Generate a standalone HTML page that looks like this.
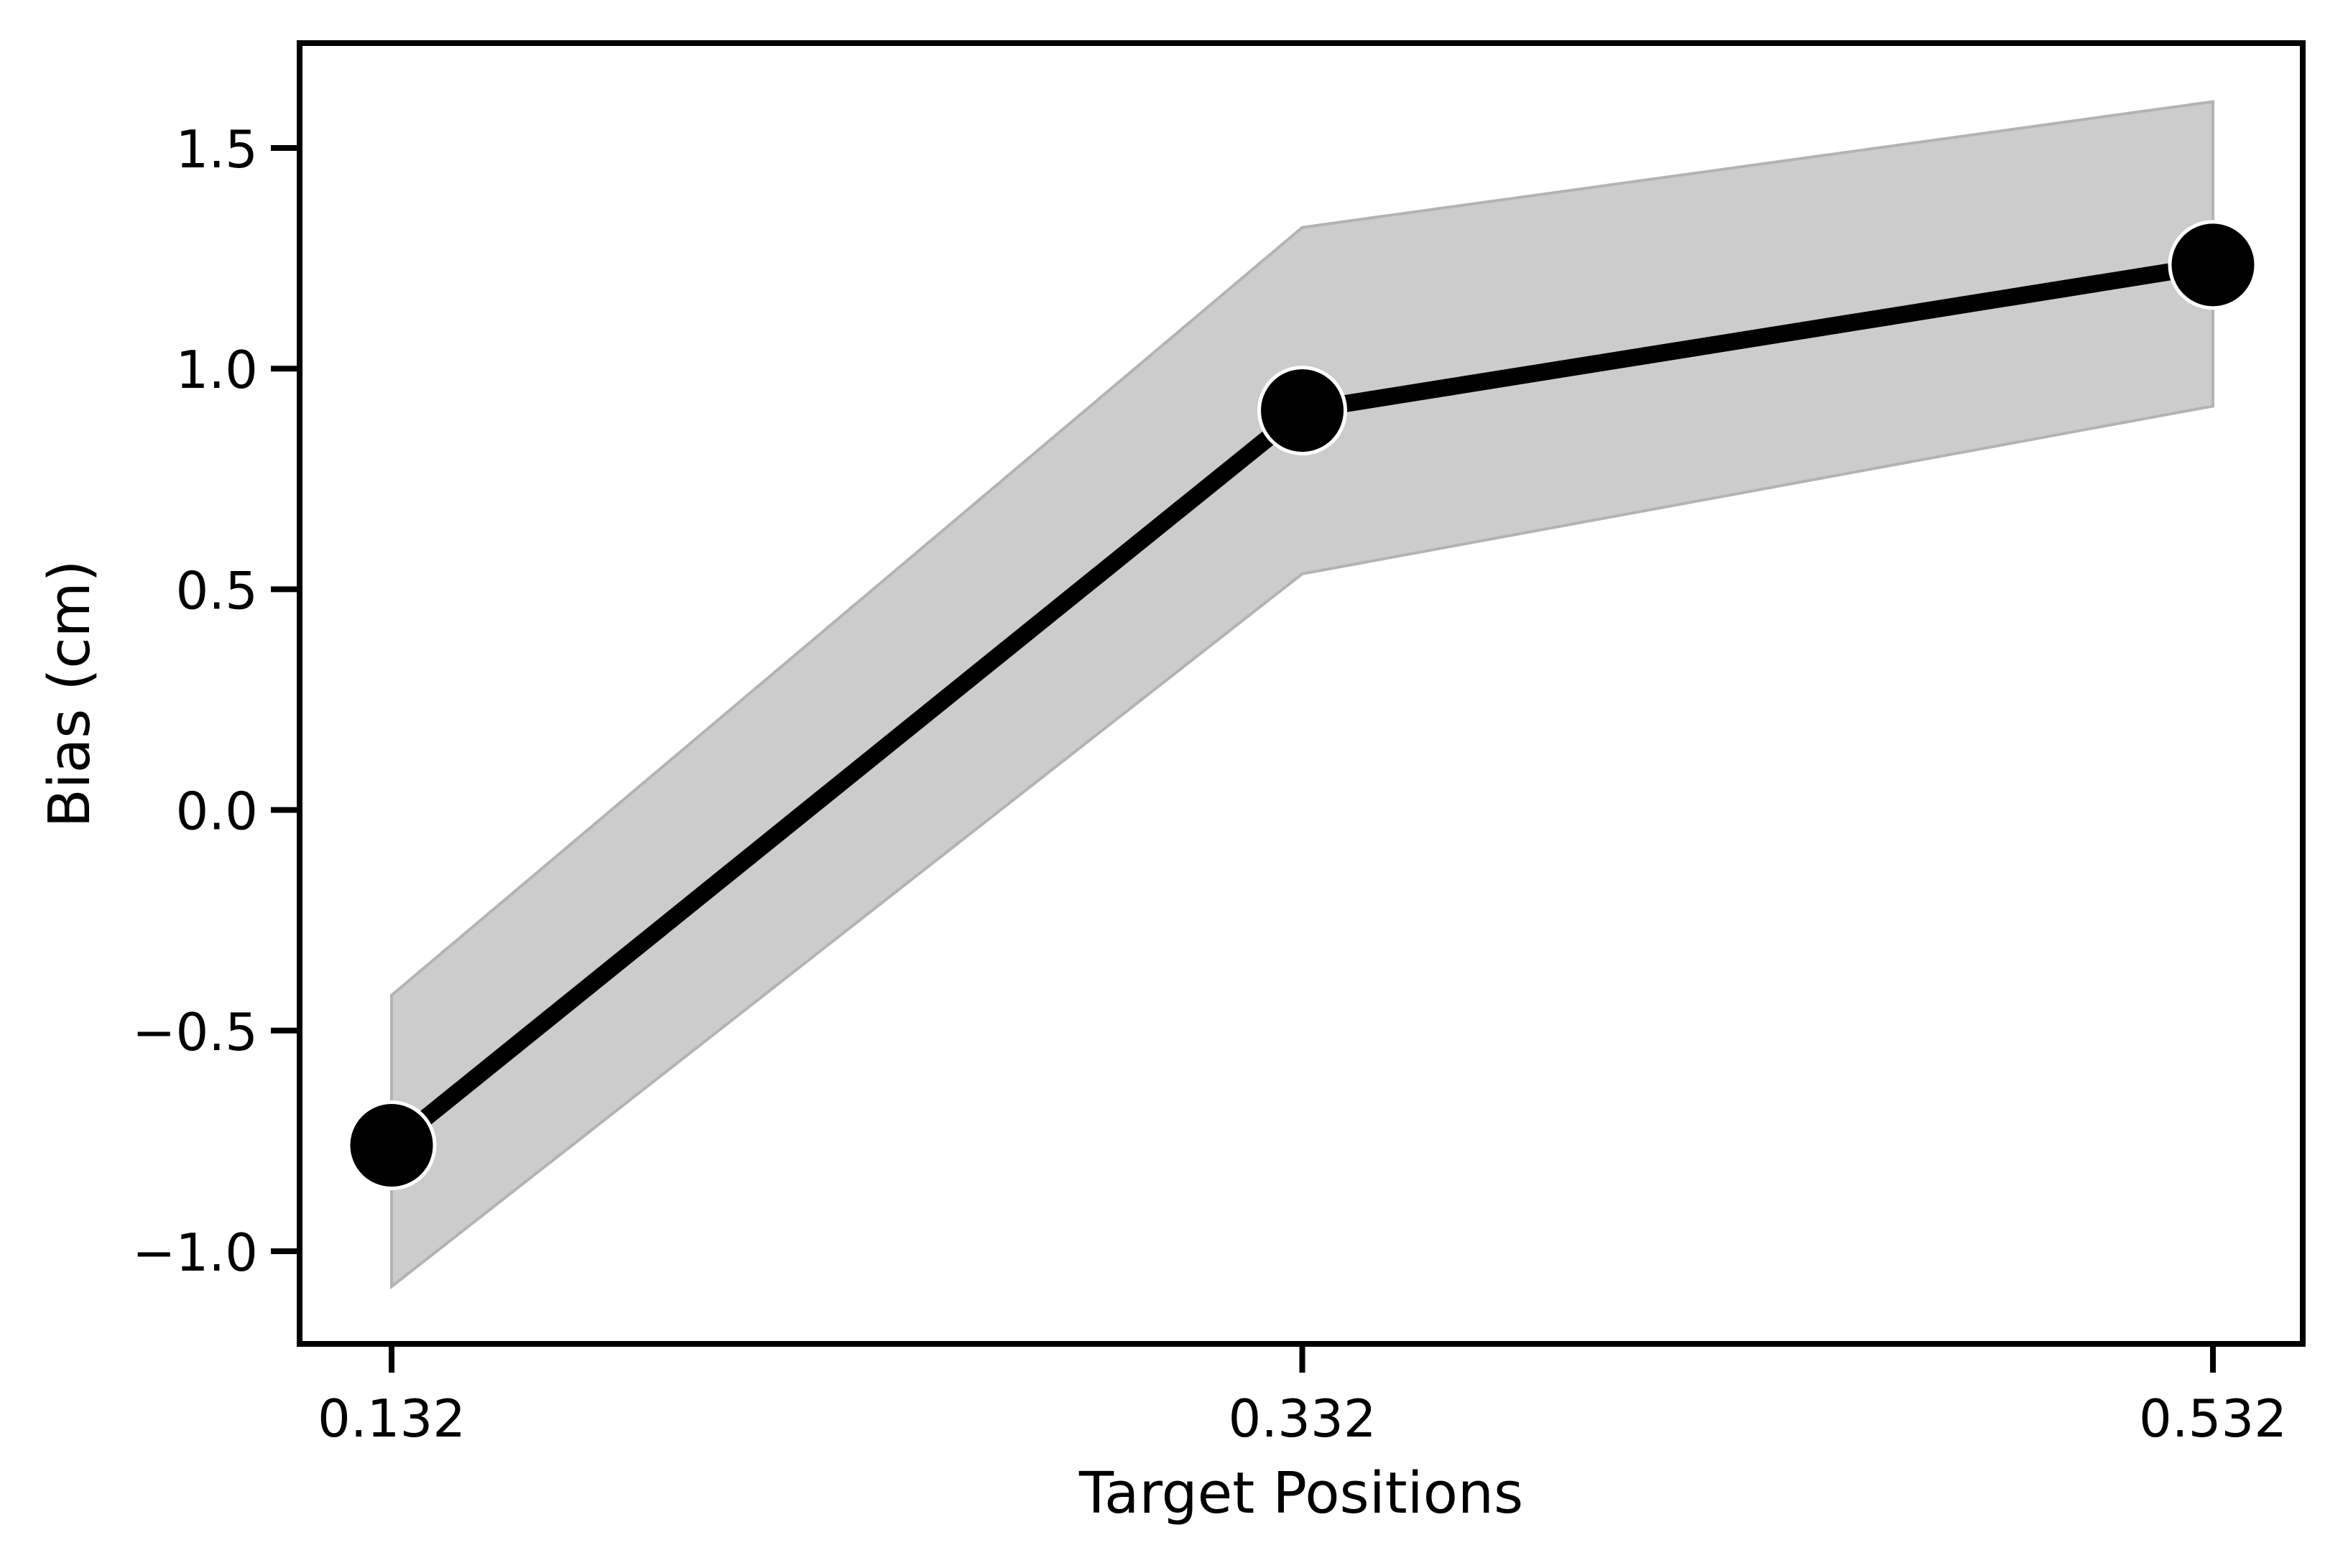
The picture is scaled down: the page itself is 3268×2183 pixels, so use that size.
<!DOCTYPE html>
<html><head><meta charset="utf-8"><style>
html,body{margin:0;padding:0;background:#fff;}
svg{display:block;font-family:"DejaVu Sans","Liberation Sans",sans-serif;}
</style></head><body>
<svg id="chart" width="3268" height="2183" viewBox="0 0 3268 2183" xmlns="http://www.w3.org/2000/svg">
<rect width="3268" height="2183" fill="#fff"/>
<g id="band"></g>
<g id="line"></g>
<g id="marks"></g>
<g id="axes"></g>
</svg>
<script>
const categories = ["0.132", "0.332", "0.532"];
const biasValues = [-0.76, 0.905, 1.235];
const lowerValues = [-1.08, 0.535, 0.915];
const upperValues = [-0.42, 1.32, 1.605];
const yTickValues = [-1.0, -0.5, 0.0, 0.5, 1.0, 1.5];
const yTickLabels = ["\u22121.0", "\u22120.5", "0.0", "0.5", "1.0", "1.5"];

const NS = "http://www.w3.org/2000/svg";
const L = 417, R = 3205, T = 60, B = 1871;
const x0 = 545, x1 = 3080;
function xs(i){ return x0 + (x1 - x0) * i / (categories.length - 1); }
function ys(v){ return 1742 - (v - (-1.0)) * (1742 - 206) / 2.5; }
function mk(tag, attrs, parent){
  const e = document.createElementNS(NS, tag);
  for (const k in attrs) e.setAttribute(k, attrs[k]);
  parent.appendChild(e); return e;
}
const band = document.getElementById('band');
let pts = categories.map((c,i)=>xs(i)+","+ys(upperValues[i]));
for (let i=categories.length-1;i>=0;i--) pts.push(xs(i)+","+ys(lowerValues[i]));
const poly = mk('polygon',{points:pts.join(' '),fill:'#cccccc',stroke:'#b3b3b3','stroke-width':4},band);



const lineG = document.getElementById('line');
const pl = mk('polyline',{points:categories.map((c,i)=>xs(i)+","+ys(biasValues[i])).join(' '),fill:'none',stroke:'#000','stroke-width':24,'stroke-linecap':'round'},lineG);



const marks = document.getElementById('marks');
categories.forEach((c,i)=>{
  const m = mk('circle',{cx:xs(i),cy:ys(biasValues[i]),r:60,fill:'#000',stroke:'#fff','stroke-width':5},marks);
  
  
});

const axes = document.getElementById('axes');
const frame = mk('rect',{x:L,y:T,width:R-L,height:B-T,fill:'none',stroke:'#000','stroke-width':8},axes);


yTickValues.forEach((v,i)=>{
  const y = ys(v);
  const t = mk('line',{x1:L-40,x2:L,y1:y,y2:y,stroke:'#000','stroke-width':8},axes);
  
  
  const tx = mk('text',{x:L-58,y:y+27,'text-anchor':'end','font-size':72,fill:'#000'},axes);
  tx.textContent = yTickLabels[i];
  
  
});
categories.forEach((c,i)=>{
  const x = xs(i);
  const t = mk('line',{x1:x,x2:x,y1:B,y2:B+40,stroke:'#000','stroke-width':8},axes);
  
  
  const tx = mk('text',{x:x,y:2000,'text-anchor':'middle','font-size':72,fill:'#000'},axes);
  tx.textContent = c;
  
  
});
const xl = mk('text',{x:(L+R)/2,y:2106,'text-anchor':'middle','font-size':79,fill:'#000'},axes);
xl.textContent = "Target Positions";


const yl = mk('text',{x:0,y:0,'text-anchor':'middle','font-size':79,fill:'#000',transform:'translate(124,966) rotate(-90)'},axes);
yl.textContent = "Bias (cm)";


</script>
</body></html>
